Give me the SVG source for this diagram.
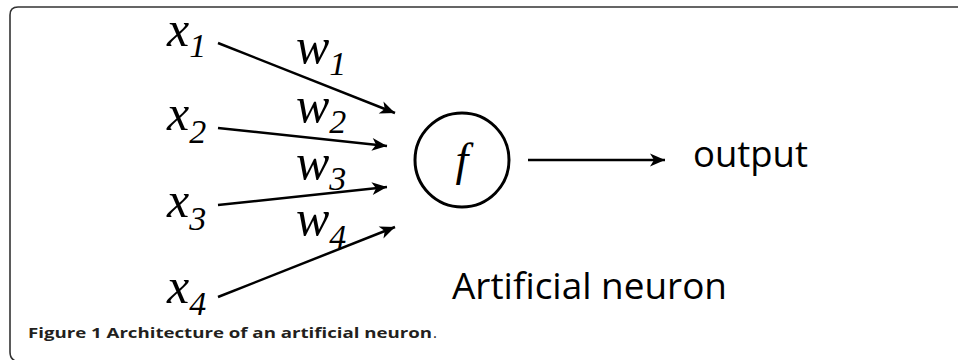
<svg xmlns="http://www.w3.org/2000/svg" width="958" height="360" viewBox="0 0 958 360">
<style>
.math{font-family:"Liberation Serif","Times New Roman",Tinos,"DejaVu Serif",serif;font-style:italic;fill:#000}
.big{font-size:50px}
.sub{font-size:34px}
.lab{font-family:"Open Sans","Liberation Sans",sans-serif;font-size:36.5px;fill:#000}
.cap{font-family:"Open Sans","Liberation Sans",sans-serif;font-size:15px;fill:#231f20}
.edge{stroke:#000;stroke-width:2.5;fill:none;marker-end:url(#arr)}
</style>
<defs>
<marker id="arr" markerUnits="userSpaceOnUse" viewBox="-16 -8 18 16" refX="0" refY="0" markerWidth="18" markerHeight="16" orient="auto">
<path d="M-15,-6.5 L0,0 L-15,6.5 L-11,0 Z" fill="#000"/>
</marker>
</defs>
<rect width="958" height="360" fill="#fff"/>
<path id="frame" d="M958,7 H18 Q10,7 10,15 V352 Q10,360 18,362" fill="none" stroke="#333" stroke-width="1.6"/>

<g id="connectors">
<line class="edge" x1="218" y1="43" x2="395" y2="113"/>
<line class="edge" x1="218" y1="128" x2="387" y2="146"/>
<line class="edge" x1="218" y1="205" x2="387" y2="187"/>
<line class="edge" x1="218" y1="297" x2="395" y2="227"/>
<line class="edge" x1="528" y1="160" x2="665" y2="160"/>
</g>

<g id="x1"><text class="math big" x="167" y="46">x<tspan class="sub" dy="11">1</tspan></text></g>
<g id="x2"><text class="math big" x="167" y="130">x<tspan class="sub" dy="13">2</tspan></text></g>
<g id="x3"><text class="math big" x="167" y="217">x<tspan class="sub" dy="13">3</tspan></text></g>
<g id="x4"><text class="math big" x="167" y="303">x<tspan class="sub" dy="12">4</tspan></text></g>

<g id="w1"><text class="math big" x="296" y="63">w<tspan class="sub" dy="12">1</tspan></text></g>
<g id="w2"><text class="math big" x="296" y="122">w<tspan class="sub" dy="11">2</tspan></text></g>
<g id="w3"><text class="math big" x="296" y="179">w<tspan class="sub" dy="11">3</tspan></text></g>
<g id="w4"><text class="math big" x="296" y="235">w<tspan class="sub" dy="13">4</tspan></text></g>

<g id="neuron">
<circle cx="462" cy="160" r="47" fill="#fff" stroke="#000" stroke-width="3"/>
<text class="math" font-size="46" x="462" y="175" text-anchor="middle">f</text>
</g>

<g id="output"><text class="lab" x="693" y="167" textLength="115" lengthAdjust="spacingAndGlyphs">output</text></g>
<g id="title"><text class="lab" x="452" y="299" textLength="275" lengthAdjust="spacingAndGlyphs">Artificial neuron</text></g>

<g id="caption"><text class="cap" x="28" y="338"><tspan font-weight="700" textLength="404" lengthAdjust="spacingAndGlyphs">Figure 1 Architecture of an artificial neuron</tspan><tspan x="433" font-weight="400">.</tspan></text></g>
</svg>
